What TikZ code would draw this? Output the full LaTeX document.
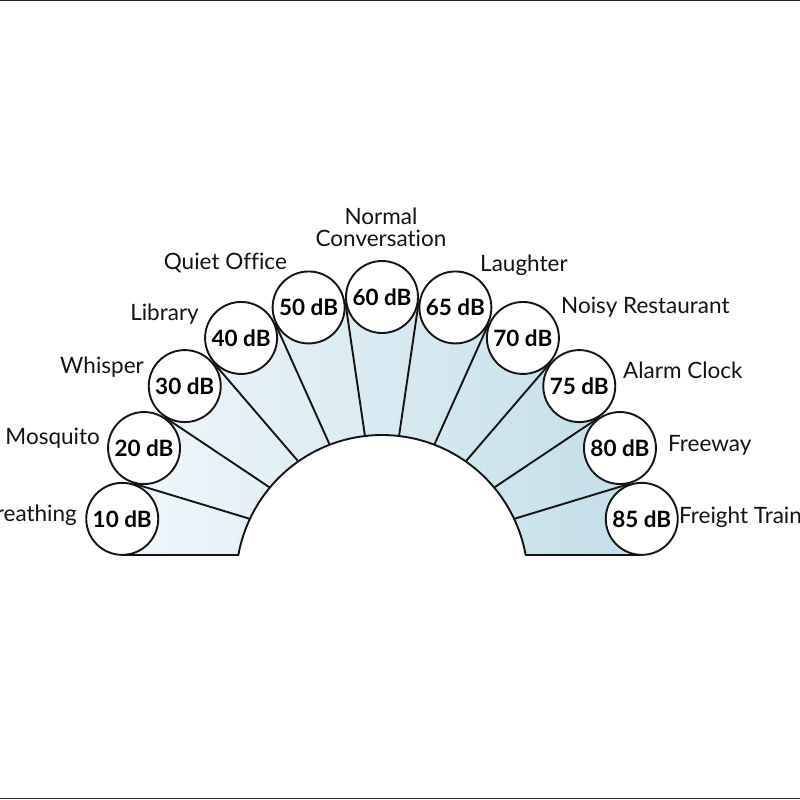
\documentclass[tikz,border=0pt]{standalone}
\usepackage{fontspec}
\setmainfont{Lato}[Ligatures=NoCommon]
\usetikzlibrary{calc}
\definecolor{fanL}{RGB}{240,247,251}
\definecolor{fanR}{RGB}{193,222,233}
\definecolor{inkc}{RGB}{20,20,20}
\begin{document}
\begin{tikzpicture}[x=1pt,y=-1pt,
  dbc/.style={circle,draw=inkc,line width=1.9pt,fill=white,minimum size=72pt,inner sep=0pt,
    font=\fontsize{22.5}{24}\selectfont\bfseries},
  lbl/.style={inner sep=0pt,font=\fontsize{22.5}{22.5}\selectfont,text=inkc},
  edge/.style={draw=inkc,line width=1.9pt}]
\useasboundingbox (0,0) rectangle (800,800);
\fill[white] (0,0) rectangle (800,800);
\draw[line width=1.2pt,black!85] (0,0.6) -- (800,0.6);
\draw[line width=1.2pt,black!85] (0,798.4) -- (800,798.4);

% circle positions
\coordinate (p10) at ({382+263*cos(171)},{560-263*sin(171)});
\coordinate (p20) at ({382+263*cos(154.8)},{560-263*sin(154.8)});
\coordinate (p30) at ({382+263*cos(138.6)},{560-263*sin(138.6)});
\coordinate (p40) at ({382+263*cos(122.4)},{560-263*sin(122.4)});
\coordinate (p50) at ({382+263*cos(106.2)},{560-263*sin(106.2)});
\coordinate (p60) at ({382+263*cos(90)},{560-263*sin(90)});
\coordinate (p65) at ({382+263*cos(73.8)},{560-263*sin(73.8)});
\coordinate (p70) at ({382+263*cos(57.6)},{560-263*sin(57.6)});
\coordinate (p75) at ({382+263*cos(41.4)},{560-263*sin(41.4)});
\coordinate (p80) at ({382+263*cos(25.2)},{560-263*sin(25.2)});
\coordinate (p85) at ({382+263*cos(9)},{560-263*sin(9)});

% inner arc ends
\coordinate (bl) at ({382+146*cos(169.74)},{581-146*sin(169.74)});
\coordinate (br) at ({382+146*cos(10.26)},{581-146*sin(10.26)});

% fan fill
\shade[left color=fanL,right color=fanR]
  (bl) -- (p10 |- bl) -- (p10) -- (p20) -- (p30) -- (p40) -- (p50) -- (p60)
  -- (p65) -- (p70) -- (p75) -- (p80) -- (p85) -- (p85 |- br) -- (br)
  -- plot[domain=10.26:169.74,samples=80] ({382+146*cos(\x)},{581-146*sin(\x)}) -- cycle;

% inner points of dividers
\coordinate (i1) at ({382+146*cos(154.8)},{581-146*sin(154.8)});
\coordinate (i2) at ({382+146*cos(140.2)},{581-146*sin(140.2)});
\coordinate (i3) at ({382+146*cos(125)},{581-146*sin(125)});
\coordinate (i4) at ({382+146*cos(111)},{581-146*sin(111)});
\coordinate (i5) at ({382+146*cos(96.7)},{581-146*sin(96.7)});
\coordinate (i6) at ({382+146*cos(83.3)},{581-146*sin(83.3)});
\coordinate (i7) at ({382+146*cos(69)},{581-146*sin(69)});
\coordinate (i8) at ({382+146*cos(55)},{581-146*sin(55)});
\coordinate (i9) at ({382+146*cos(39.8)},{581-146*sin(39.8)});
\coordinate (i10) at ({382+146*cos(25.2)},{581-146*sin(25.2)});

\draw[edge] ($(p10)!0.5!(p20)$) -- (i1);
\draw[edge] ($(p20)!0.5!(p30)$) -- (i2);
\draw[edge] ($(p30)!0.5!(p40)$) -- (i3);
\draw[edge] ($(p40)!0.5!(p50)$) -- (i4);
\draw[edge] ($(p50)!0.5!(p60)$) -- (i5);
\draw[edge] ($(p60)!0.5!(p65)$) -- (i6);
\draw[edge] ($(p65)!0.5!(p70)$) -- (i7);
\draw[edge] ($(p70)!0.5!(p75)$) -- (i8);
\draw[edge] ($(p75)!0.5!(p80)$) -- (i9);
\draw[edge] ($(p80)!0.5!(p85)$) -- (i10);

% inner arc and base lines
\draw[edge,line join=round] (p10 |- bl) -- (bl)
  -- plot[domain=169.74:10.26,samples=80] ({382+146*cos(\x)},{581-146*sin(\x)})
  -- (p85 |- br);

% circles
\node[dbc] (c10) at (p10) {10 dB};
\node[dbc] (c20) at (p20) {20 dB};
\node[dbc] (c30) at (p30) {30 dB};
\node[dbc] (c40) at (p40) {40 dB};
\node[dbc] (c50) at (p50) {50 dB};
\node[dbc] (c60) at (p60) {60 dB};
\node[dbc] (c65) at (p65) {65 dB};
\node[dbc] (c70) at (p70) {70 dB};
\node[dbc] (c75) at (p75) {75 dB};
\node[dbc] (c80) at (p80) {80 dB};
\node[dbc] (c85) at (p85) {85 dB};

% labels
\node[lbl,anchor=base east] (l10) at (77,521) {Breathing};
\node[lbl,anchor=base east] (l20) at (100,444) {Mosquito};
\node[lbl,anchor=base east] (l30) at (144,373) {Whisper};
\node[lbl,anchor=base east] (l40) at (199,320) {Library};
\node[lbl,anchor=base east] (l50) at (287,269) {Quiet Office};
\node[lbl,anchor=base,align=center] (l60) at (381,246.5) {Normal\\Conversation};
\node[lbl,anchor=base west] (l65) at (480,271) {Laughter};
\node[lbl,anchor=base west] (l70) at (561,313) {Noisy Restaurant};
\node[lbl,anchor=base west] (l75) at (623,378) {Alarm Clock};
\node[lbl,anchor=base west] (l80) at (668,451) {Freeway};
\node[lbl,anchor=base west] (l85) at (679,523) {Freight Train};
\end{tikzpicture}
\end{document}
